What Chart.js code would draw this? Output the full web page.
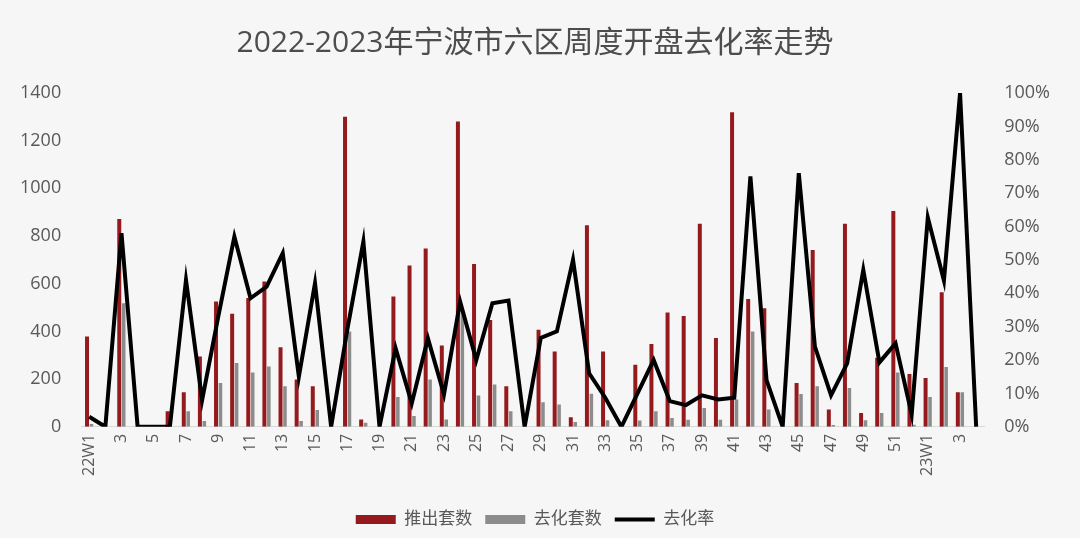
<!DOCTYPE html>
<html>
<head>
<meta charset="utf-8">
<script src="https://cdn.jsdelivr.net/npm/chart.js@4"></script>
<style>
  html, body { margin: 0; padding: 0; background: #f6f6f6; }
  #wrap { width: 1080px; height: 538px; }
</style>
</head>
<body>
<div id="wrap"><canvas id="chart" width="1080" height="538"></canvas></div>
<script>
// week labels: 2022 W1..W52, 2023 W1..W4
const weeks = ['22W1', '2', '3', '4', '5', '6', '7', '8', '9', '10', '11', '12', '13', '14', '15', '16', '17', '18', '19', '20',
  '21', '22', '23', '24', '25', '26', '27', '28', '29', '30', '31', '32', '33', '34', '35', '36', '37', '38', '39', '40',
  '41', '42', '43', '44', '45', '46', '47', '48', '49', '50', '51', '52', '23W1', '2', '3', '4'];

// 推出套数
const launched = [379, 0, 872, 0, 0, 65, 145, 295, 525, 474, 540, 609, 334, 198, 170, 0, 1300, 31, 0, 546,
  676, 748, 341, 1280, 683, 448, 170, 0, 407, 316, 40, 845, 316, 0, 260, 347, 479, 465, 852, 372,
  1319, 536, 497, 0, 184, 741, 72, 852, 58, 290, 905, 221, 205, 564, 145, 0];

// 去化套数
const sold = [12, 0, 518, 0, 0, 0, 65, 24, 184, 267, 228, 253, 170, 24, 70, 0, 400, 17, 0, 125,
  45, 198, 31, 480, 131, 177, 65, 0, 103, 93, 20, 139, 27, 0, 26, 65, 37, 30, 79, 30,
  114, 400, 72, 0, 138, 170, 7, 163, 27, 58, 228, 8, 125, 251, 145, 0];

// 去化率 (%)
const rate = [3, 0, 58, 0, 0, 0, 44, 8, 33, 57, 38.5, 42, 52, 15, 43, 0, 29, 55.5, 0, 23.5,
  7, 26.5, 9.7, 37.5, 20, 37, 37.8, 0, 26.6, 28.6, 50, 16, 8.7, 0, 10, 20, 7.7, 6.5, 9.4, 8.2,
  8.7, 75, 14, 0, 76, 24, 9.4, 19, 47, 19.3, 25, 3.7, 62.7, 43.8, 100, 0];

const textColor = '#595959';
const fontFamily = '"Open Sans", "Noto Sans CJK SC", sans-serif';

new Chart(document.getElementById('chart').getContext('2d'), {
  type: 'bar',
  data: {
    labels: weeks,
    datasets: [
      {
        type: 'line',
        label: '去化率',
        data: rate,
        yAxisID: 'y1',
        borderColor: '#000000',
        backgroundColor: '#000000',
        borderWidth: 4,
        pointRadius: 0,
        pointStyle: 'line',
        tension: 0,
        order: 0
      },
      {
        label: '推出套数',
        data: launched,
        yAxisID: 'y',
        backgroundColor: '#951a1e',
        pointStyle: 'rect',
        categoryPercentage: 0.55,
        barPercentage: 0.9,
        order: 1
      },
      {
        label: '去化套数',
        data: sold,
        yAxisID: 'y',
        backgroundColor: '#8c8c8c',
        pointStyle: 'rect',
        categoryPercentage: 0.55,
        barPercentage: 0.8,
        order: 1
      }
    ]
  },
  options: {
    responsive: false,
    animation: false,
    layout: { padding: { left: 0, right: 10, top: 0, bottom: 0 } },
    plugins: {
      title: {
        display: true,
        text: '2022-2023年宁波市六区周度开盘去化率走势',
        color: '#4d4d4d',
        font: { size: 30, family: fontFamily, weight: 'normal' },
        padding: { top: 25, bottom: 32 }
      },
      legend: {
        position: 'bottom',
        labels: {
          color: textColor,
          font: { size: 17, family: fontFamily },
          usePointStyle: true,
          pointStyleWidth: 40,
          boxWidth: 40,
          boxHeight: 9,
          padding: 13,
          sort: (a, b) => [1, 2, 0].indexOf(a.datasetIndex) - [1, 2, 0].indexOf(b.datasetIndex)
        }
      },
      tooltip: { enabled: false }
    },
    scales: {
      x: {
        grid: { display: false, drawTicks: false },
        border: { display: true, color: '#d9d9d9' },
        afterFit: scale => { scale.height += 15; },
        ticks: {
          color: textColor,
          font: { size: 16, family: fontFamily },
          autoSkip: false,
          maxRotation: 90,
          minRotation: 90,
          padding: 7,
          callback: function (value, index) {
            return index % 2 === 0 ? this.getLabelForValue(value) : '';
          }
        }
      },
      y: {
        position: 'left',
        min: 0,
        max: 1400,
        grid: { display: false, drawTicks: false },
        border: { display: false },
        ticks: {
          stepSize: 200,
          color: textColor,
          font: { size: 18, family: fontFamily },
          padding: 20,
          callback: v => String(v)
        }
      },
      y1: {
        position: 'right',
        min: 0,
        max: 100,
        grid: { display: false, drawTicks: false },
        border: { display: false },
        ticks: {
          stepSize: 10,
          color: textColor,
          font: { size: 18, family: fontFamily },
          padding: 20,
          callback: v => v + '%'
        }
      }
    }
  }
});
</script>
</body>
</html>
